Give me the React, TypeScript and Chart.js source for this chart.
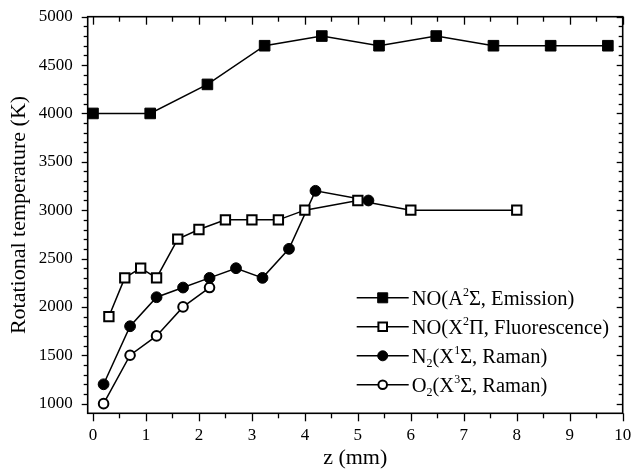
import React, { useEffect, useRef } from "react";
import { Chart, registerables } from "chart.js";

Chart.register(...registerables);

// Axial position z (mm) and rotational temperature (K) for each diagnostic
const xNoEmission = [0, 1.08, 2.16, 3.24, 4.32, 5.4, 6.48, 7.56, 8.64, 9.72];
const yNoEmission = [4000, 4000, 4300, 4700, 4800, 4700, 4800, 4700, 4700, 4700];

const xNoFluor = [0.3, 0.6, 0.9, 1.2, 1.6, 2.0, 2.5, 3.0, 3.5, 4.0, 5.0, 6.0, 8.0];
const yNoFluor = [1900, 2300, 2400, 2300, 2700, 2800, 2900, 2900, 2900, 3000, 3100, 3000, 3000];

const xN2 = [0.2, 0.7, 1.2, 1.7, 2.2, 2.7, 3.2, 3.7, 4.2, 5.2];
const yN2 = [1200, 1800, 2100, 2200, 2300, 2400, 2300, 2600, 3200, 3100];

const xO2 = [0.2, 0.7, 1.2, 1.7, 2.2];
const yO2 = [1000, 1500, 1700, 2000, 2200];

const xTickValues = [0, 1, 2, 3, 4, 5, 6, 7, 8, 9, 10];
const yTickValues = [1000, 1500, 2000, 2500, 3000, 3500, 4000, 4500, 5000];

const xAxisTitle = "z (mm)";
const yAxisTitle = "Rotational temperature (K)";

// Legend entries as runs of text: "sup" / "sub" runs are drawn small and shifted
type Run = { t: string; s?: "sup" | "sub" };
const legendNoEmission: Run[] = [{ t: "NO(A" }, { t: "2", s: "sup" }, { t: "Σ, Emission)" }];
const legendNoFluor: Run[] = [{ t: "NO(X" }, { t: "2", s: "sup" }, { t: "Π, Fluorescence)" }];
const legendN2: Run[] = [{ t: "N" }, { t: "2", s: "sub" }, { t: "(X" }, { t: "1", s: "sup" }, { t: "Σ, Raman)" }];
const legendO2: Run[] = [{ t: "O" }, { t: "2", s: "sub" }, { t: "(X" }, { t: "3", s: "sup" }, { t: "Σ, Raman)" }];

const FONT = "'Liberation Serif', 'Times New Roman', serif";

const toPoints = (xs: number[], ys: number[]) => xs.map((x, i) => ({ x, y: ys[i] }));

const frameAndLegend = {
  id: "frameAndLegend",
  afterDraw(chart: any) {
    const { ctx, chartArea, scales } = chart;
    const { left, right, top, bottom } = chartArea;
    const xs = scales.x;
    const ys = scales.y;
    ctx.save();
    ctx.strokeStyle = "#000";
    ctx.lineWidth = 1.6;
    ctx.strokeRect(left, top, right - left, bottom - top);

    ctx.lineWidth = 1.3;
    const tick = (x1: number, y1: number, x2: number, y2: number) => {
      ctx.beginPath();
      ctx.moveTo(x1, y1);
      ctx.lineTo(x2, y2);
      ctx.stroke();
    };

    // x axis: major ticks outside at bottom, inside at top; minor halfway
    const xMinor: number[] = [];
    for (let i = 0; i < xTickValues.length - 1; i++) xMinor.push((xTickValues[i] + xTickValues[i + 1]) / 2);
    xTickValues.forEach((v) => {
      const p = Math.round(xs.getPixelForValue(v)) + 0.5;
      tick(p, bottom, p, bottom + 8);
      tick(p, top, p, top + 8);
    });
    xMinor.forEach((v) => {
      const p = Math.round(xs.getPixelForValue(v)) + 0.5;
      tick(p, bottom, p, bottom + 5);
      tick(p, top, p, top + 5);
    });

    // y axis: major ticks outside at left, inside at right; four minor between
    const yMinor: number[] = [];
    for (let i = 0; i < yTickValues.length - 1; i++) {
      const a = yTickValues[i];
      const b = yTickValues[i + 1];
      for (let k = 1; k < 5; k++) yMinor.push(a + ((b - a) * k) / 5);
    }
    yMinor.push(yTickValues[0] - (yTickValues[1] - yTickValues[0]) / 5);
    yTickValues.forEach((v) => {
      const p = Math.round(ys.getPixelForValue(v)) + 0.5;
      tick(left - 6, p, left, p);
      tick(right, p, right - 6, p);
    });
    yMinor.forEach((v) => {
      const p = Math.round(ys.getPixelForValue(v)) + 0.5;
      if (p > bottom - 1 || p < top + 1) return;
      tick(left - 4, p, left, p);
      tick(right, p, right - 4, p);
    });

    // Legend: sample line with marker, then rich text label
    const entries: Run[][] = [legendNoEmission, legendNoFluor, legendN2, legendO2];
    const lineX0 = right - 266;
    const lineX1 = lineX0 + 52;
    const rowGap = 29;
    const lastRowY = bottom - 28.5;
    const baseSize = 20.5;
    entries.forEach((runs, i) => {
      const ds = chart.data.datasets[i];
      const yRow = lastRowY - (entries.length - 1 - i) * rowGap;
      ctx.strokeStyle = "#000";
      ctx.lineWidth = 1.5;
      tick(lineX0, yRow, lineX1, yRow);
      const cx = (lineX0 + lineX1) / 2;
      ctx.fillStyle = ds.pointBackgroundColor;
      ctx.strokeStyle = "#000";
      ctx.lineWidth = ds.pointBorderWidth;
      if (ds.pointStyle === "rect") {
        const h = ds.legendMarker;
        ctx.beginPath();
        ctx.rect(cx - h, yRow - h, 2 * h, 2 * h);
        ctx.fill();
        ctx.stroke();
      } else {
        ctx.beginPath();
        ctx.arc(cx, yRow, ds.legendMarker, 0, Math.PI * 2);
        ctx.fill();
        ctx.stroke();
      }
      let tx = lineX1 + 3;
      ctx.fillStyle = "#000";
      ctx.textBaseline = "alphabetic";
      ctx.textAlign = "left";
      const baseY = yRow + 7;
      runs.forEach((r) => {
        if (r.s) {
          ctx.font = `${Math.round(baseSize * 0.6)}px ${FONT}`;
          const dy = r.s === "sup" ? -9 : 4.5;
          ctx.fillText(r.t, tx, baseY + dy);
        } else {
          ctx.font = `${baseSize}px ${FONT}`;
          ctx.fillText(r.t, tx, baseY);
        }
        tx += ctx.measureText(r.t).width;
      });
    });
    ctx.restore();
  },
};

export default function App() {
  const canvasRef = useRef<HTMLCanvasElement | null>(null);

  useEffect(() => {
    if (!canvasRef.current) return;
    const common = {
      borderColor: "#000",
      borderWidth: 1.5,
      pointBorderColor: "#000",
      showLine: true,
      tension: 0,
      clip: false as const,
    };
    const chart = new Chart(canvasRef.current, {
      type: "line",
      data: {
        datasets: [
          {
            ...common,
            label: "NO emission",
            data: toPoints(xNoEmission, yNoEmission),
            pointStyle: "rect",
            pointRadius: 7.5,
            pointBackgroundColor: "#000",
            pointBorderWidth: 1,
            legendMarker: 5,
          } as any,
          {
            ...common,
            label: "NO fluorescence",
            data: toPoints(xNoFluor, yNoFluor),
            pointStyle: "rect",
            pointRadius: 6.6,
            pointBackgroundColor: "#fff",
            pointBorderWidth: 2,
            legendMarker: 4.3,
          } as any,
          {
            ...common,
            label: "N2 Raman",
            data: toPoints(xN2, yN2),
            pointStyle: "circle",
            pointRadius: 5.4,
            pointBackgroundColor: "#000",
            pointBorderWidth: 1,
            legendMarker: 5,
          } as any,
          {
            ...common,
            label: "O2 Raman",
            data: toPoints(xO2, yO2),
            pointStyle: "circle",
            pointRadius: 4.8,
            pointBackgroundColor: "#fff",
            pointBorderWidth: 2,
            legendMarker: 4.3,
          } as any,
        ],
      },
      options: {
        responsive: false,
        animation: false,
        events: [],
        layout: { padding: { top: 16.7, right: 10.3, left: 0, bottom: 0 } },
        plugins: {
          legend: { display: false },
          tooltip: { enabled: false },
          title: { display: false },
        },
        scales: {
          x: {
            type: "linear",
            min: -0.1,
            max: 10,
            grid: { display: false, drawTicks: false },
            border: { display: false },
            afterBuildTicks: (s: any) => {
              s.ticks = xTickValues.map((v) => ({ value: v }));
            },
            afterFit: (s: any) => {
              s.height = 55.7;
              s.paddingLeft = 0;
              s.paddingRight = 0;
            },
            ticks: {
              color: "#000",
              padding: 12,
              maxRotation: 0,
              autoSkip: false,
              font: { family: FONT, size: 17 },
              callback: (v: any) => String(v),
            },
            title: {
              display: true,
              text: xAxisTitle,
              color: "#000",
              font: { family: FONT, size: 22, lineHeight: 1 },
              padding: { top: 0, bottom: 0 },
            },
          },
          y: {
            type: "linear",
            min: 900,
            max: 5000,
            grid: { display: false, drawTicks: false },
            border: { display: false },
            afterBuildTicks: (s: any) => {
              s.ticks = yTickValues.map((v) => ({ value: v }));
            },
            afterFit: (s: any) => {
              s.width = 87.7;
              s.paddingTop = 0;
              s.paddingBottom = 0;
            },
            ticks: {
              color: "#000",
              padding: 15,
              autoSkip: false,
              font: { family: FONT, size: 17 },
              callback: (v: any) => String(v),
            },
            title: {
              display: true,
              text: yAxisTitle,
              color: "#000",
              font: { family: FONT, size: 22, lineHeight: 1 },
              padding: { top: 8.5, bottom: 0 },
            },
          },
        },
      },
      plugins: [frameAndLegend],
    });
    return () => chart.destroy();
  }, []);

  return (
    <div style={{ position: "absolute", left: 0, top: 0, width: 633, height: 469, background: "#fff" }}>
      <canvas ref={canvasRef} width={633} height={469} style={{ display: "block" }} />
    </div>
  );
}
